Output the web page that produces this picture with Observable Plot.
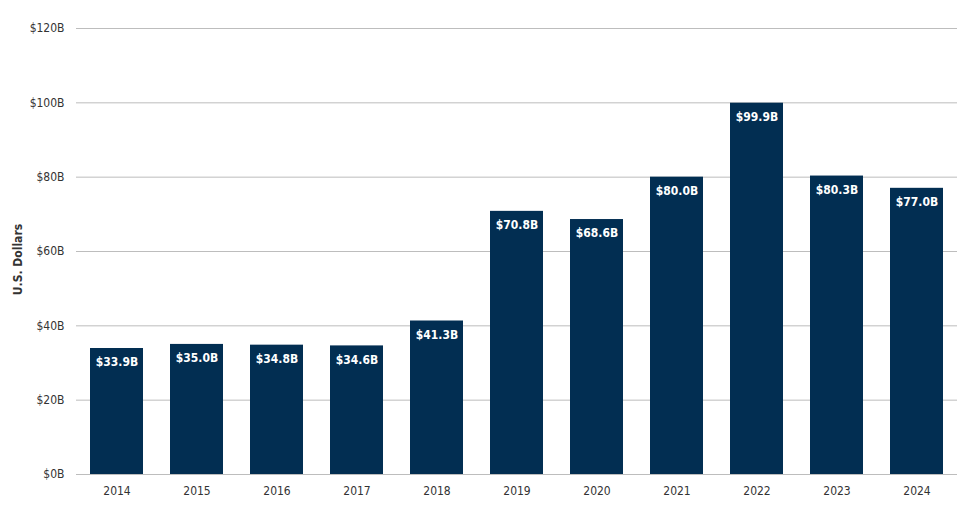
<!DOCTYPE html>
<html>
<head>
<meta charset="utf-8">
<script src="https://cdn.jsdelivr.net/npm/d3@7"></script>
<script src="https://cdn.jsdelivr.net/npm/@observablehq/plot@0.6"></script>
<style>
  html, body { margin: 0; padding: 0; background: #fff; }
  #chart svg { display: block; }
  #chart svg text { font-stretch: condensed; }
</style>
</head>
<body>
<div id="chart"></div>
<script>
const years = ["2014","2015","2016","2017","2018","2019","2020","2021","2022","2023","2024"];
const values = [33.9, 35.0, 34.8, 34.6, 41.3, 70.8, 68.6, 80.0, 99.9, 80.3, 77.0];
const yTicks = [0, 20, 40, 60, 80, 100, 120];

const data = years.map((y, i) => ({year: y, value: values[i]}));
const font = "'DejaVu Sans Condensed', 'DejaVu Sans', sans-serif";

const chart = Plot.plot({
  width: 974,
  height: 513,
  marginLeft: 76,
  marginRight: 17,
  marginTop: 28,
  marginBottom: 39,
  style: {fontFamily: font, fontSize: "12px", color: "#333333", background: "#fff"},
  x: {domain: years, paddingInner: 0.34, paddingOuter: 0.17, label: null},
  y: {domain: [0, 120], ticks: yTicks, label: null},
  marks: [
    Plot.gridY(yTicks, {stroke: "#bdbdbd", strokeOpacity: 1, strokeWidth: 1}),
    Plot.axisY(yTicks, {tickSize: 0, tickPadding: 12, tickFormat: d => `$${d}B`, fontSize: 12, fill: "#333333"}),
    Plot.axisX({tickSize: 0, tickPadding: 12, fontSize: 12, fill: "#333333"}),
    Plot.barY(data, {x: "year", y: "value", fill: "#022e52"}),
    Plot.text(data, {x: "year", y: "value", text: d => `$${d.value.toFixed(1)}B`, dy: 14, fill: "#ffffff", fontWeight: "bold", fontSize: 12}),
    Plot.text(["U.S. Dollars"], {frameAnchor: "left", textAnchor: "middle", dx: -58, dy: 8, rotate: -90, fontWeight: "bold", fontSize: 12, fill: "#333333"})
  ]
});
document.getElementById("chart").appendChild(chart);
</script>
</body>
</html>
